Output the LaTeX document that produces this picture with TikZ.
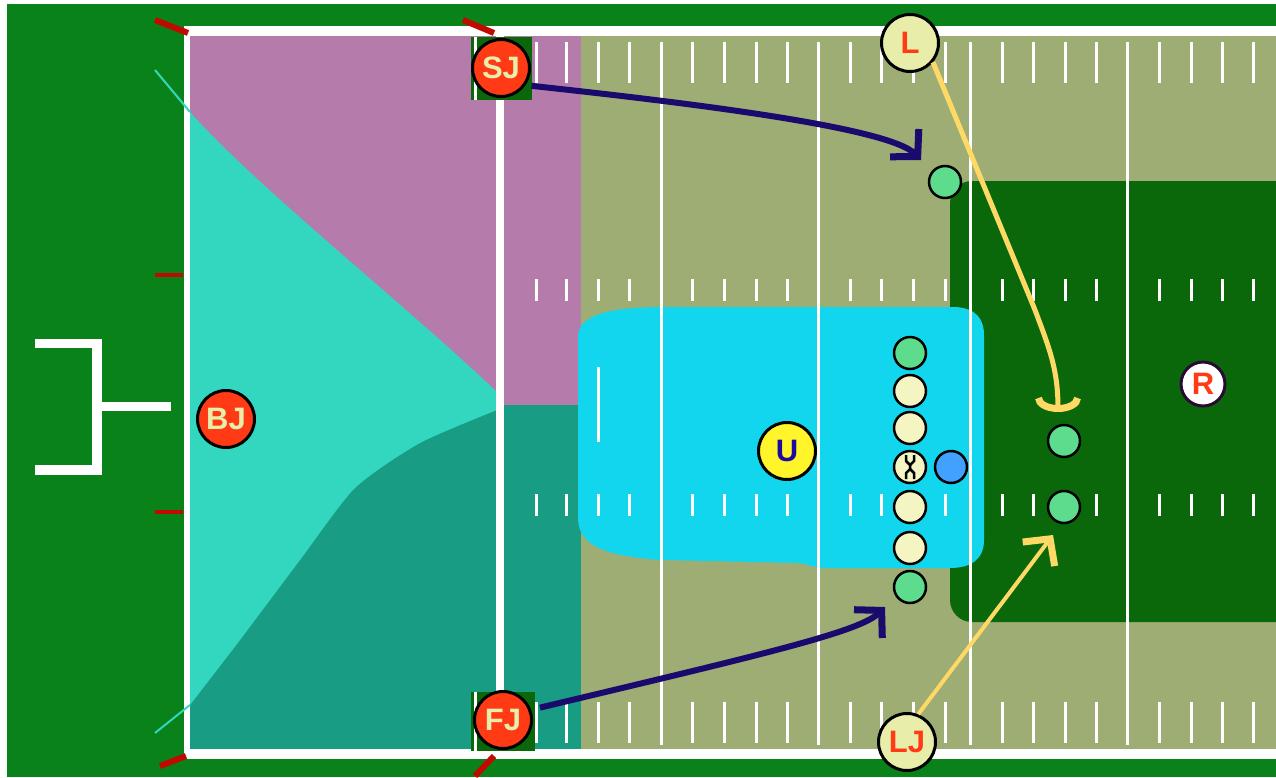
\documentclass[tikz,border=0pt]{standalone}
\usepackage{fontspec}
\setmainfont{Liberation Sans}
\usetikzlibrary{arrows.meta}
\definecolor{outergreen}{RGB}{10,130,26}
\definecolor{fieldolive}{RGB}{157,173,116}
\definecolor{darkzone}{RGB}{10,104,10}
\definecolor{zonepurple}{RGB}{181,123,171}
\definecolor{zoneturq}{RGB}{51,214,190}
\definecolor{zoneteal}{RGB}{24,156,132}
\definecolor{zonecyan}{RGB}{18,214,238}
\definecolor{movenavy}{RGB}{26,10,110}
\definecolor{moveyellow}{RGB}{255,217,102}
\definecolor{markred}{RGB}{192,10,0}
\definecolor{offred}{RGB}{255,58,20}
\definecolor{offpale}{RGB}{232,237,170}
\definecolor{linecream}{RGB}{245,245,196}
\definecolor{playgreen}{RGB}{92,220,140}
\definecolor{playblue}{RGB}{66,160,255}
\definecolor{umpyellow}{RGB}{255,245,42}
\definecolor{umptext}{RGB}{30,10,160}
\definecolor{refrim}{RGB}{40,10,50}
\begin{document}
\begin{tikzpicture}[x=1pt,y=-1pt,
  official/.style={circle, draw=black, line width=3pt, minimum size=57pt, inner sep=0pt,
    font=\fontsize{31}{31}\selectfont\bfseries},
  redoff/.style={official, fill=offred, text=offpale},
  paleoff/.style={official, fill=offpale, text=offred},
  player/.style={circle, draw=black, line width=2.5pt, minimum size=32pt, inner sep=0pt},
  cream/.style={player, fill=linecream},
  green/.style={player, fill=playgreen},
  hashmark/.style={white, line width=3pt},
  yardline/.style={white, line width=3pt},
  redmark/.style={markred, line width=6pt},
  navymove/.style={movenavy, line width=6pt, -{Straight Barb[length=19pt,width=40pt,line width=7pt]}},
  yellowmove/.style={moveyellow, line width=4pt, -{Straight Barb[length=19pt,width=40pt,line width=7pt]}}
]
\useasboundingbox (0,0) rectangle (1276,777);
\fill[white] (0,0) rectangle (1276,777);
\fill[outergreen] (7,4) rectangle (1276,777);
% sidelines
\fill[white] (184,26) rectangle (1276,759);
\fill[fieldolive] (190,36) rectangle (1276,749);
\begin{scope}
\clip (190,36) rectangle (1276,749);
% end zone regions
\fill[zonepurple] (190,36) rectangle (581,405);
\fill[zoneteal] (190,405) rectangle (581,749);
\fill[zoneturq] (190,112) .. controls (260,190) and (400,300) .. (497,392) -- (497,410)
  -- plot[smooth, tension=0.4] coordinates {(497,410) (420,443) (355,488) (300,560) (240,640) (190,705)} -- cycle;
% dark zone
\fill[darkzone, rounded corners=22pt] (950,181) rectangle (1330,622);
% cyan zone
\fill[zonecyan] (578,335) .. controls (580,312) and (620,307) .. (665,307) -- (955,307)
  .. controls (975,308) and (984,318) .. (984,335) -- (984,540)
  .. controls (984,560) and (970,568) .. (950,568) -- (820,568) -- (800,563) -- (660,560)
  .. controls (610,556) and (580,548) .. (578,520) -- cycle;
\end{scope}
\draw[zoneturq, line width=2pt] (155,70) -- (190,112);
\draw[zoneturq, line width=2pt] (155,733) -- (190,705);
% goal line and yard lines
\fill[white] (496,36) rectangle (504,749);
\foreach \x in {661,818,970,1127} \draw[yardline] (\x,42) -- (\x,745);
\foreach \x in {536,566,598,629,692,724,756,787,850,881,913,945,1002,1033,1065,1096,1159,1191,1222,1253} {
  \draw[hashmark] (\x,42) -- (\x,83);
  \draw[hashmark] (\x,279) -- (\x,301);
  \draw[hashmark] (\x,494) -- (\x,516);
  \draw[hashmark] (\x,702) -- (\x,743);
}
\draw[hashmark] (598,367) -- (598,442);
% goal post
\fill[white] (35,339) rectangle (102,348);
\fill[white] (92,339) rectangle (102,475);
\fill[white] (35,465) rectangle (102,475);
\fill[white] (102,402) rectangle (171,411);
% red marks
\draw[redmark] (155,20) -- (188,33);
\draw[redmark] (463,20) -- (494,33);
\draw[redmark] (160,766) -- (186,756);
\draw[redmark] (475,776) -- (494,756);
\draw[markred, line width=4pt] (155,275) -- (183,275);
\draw[markred, line width=4pt] (155,512) -- (183,512);
% squares behind judges
\fill[darkzone] (471,37) rectangle (532,100);
\fill[darkzone] (471,692) rectangle (535,751);
\draw[white, line width=3pt] (475,37) -- (475,100);
\draw[white, line width=3pt] (475,692) -- (475,751);
% officials
\node[redoff] (BJ) at (226,419) {BJ};
\node[redoff] (SJ) at (501,68) {SJ};
\node[redoff] (FJ) at (503,720) {FJ};
\node[paleoff] (L) at (910,43) {L};
\node[paleoff] (LJ) at (907,742) {LJ};
\node[official, fill=umpyellow, text=umptext] (U) at (787,451) {U};
\node[official, minimum size=44pt, fill=white, draw=refrim, text=offred] (R) at (1203,384) {R};
% players
\node[green] (p1) at (910,353) {};
\node[cream] (p2) at (910,391) {};
\node[cream] (p3) at (910,428) {};
\node[cream] (p4) at (910,467) {};
\node[cream] (p5) at (910,507) {};
\node[cream] (p6) at (910,548) {};
\node[green] (p7) at (910,587) {};
\node[player, fill=playblue] (qb) at (951,467) {};
\node[green] (w1) at (945,182) {};
\node[green] (w2) at (1064,441) {};
\node[green] (w3) at (1064,507) {};
\draw[black, line width=2.5pt] (906,455) -- (906,461) -- (910,465) -- (910,469) -- (906,473) -- (906,479);
\draw[black, line width=2.5pt] (914,455) -- (914,461) -- (910,465);
\draw[black, line width=2.5pt] (910,469) -- (914,473) -- (914,479);
% movement arrows
\coordinate (sjend) at (921,160);
\coordinate (fjend) at (885,607);
\coordinate (lmid) at (1035,310);
\coordinate (lend) at (1058,412);
\coordinate (ljend) at (1053,535);
\draw[navymove, shorten <=6pt] (SJ.-35) .. controls (700,104) and (890,128) .. (sjend);
\draw[navymove, shorten <=9pt] (FJ.20) .. controls (760,655) and (860,632) .. (fjend);
\draw[moveyellow, line width=5pt, -{Arc Barb[length=14pt,width=46pt,line width=7pt]}]
  (L.-40) -- (lmid) .. controls (1050,350) and (1058,370) .. (lend);
\draw[yellowmove] (LJ.68) -- (ljend);
\end{tikzpicture}
\end{document}
